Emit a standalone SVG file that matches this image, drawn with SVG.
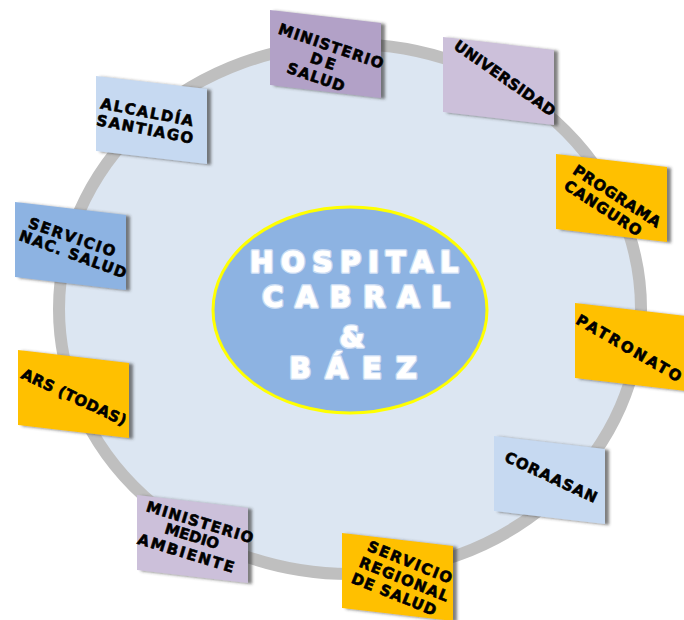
<svg xmlns="http://www.w3.org/2000/svg" width="684" height="620" viewBox="0 0 684 620">
<defs>
<filter id="sh" x="-10%" y="-10%" width="130%" height="130%">
<feDropShadow dx="4" dy="1" stdDeviation="1.5" flood-color="#3a3a3a" flood-opacity="0.65"/>
</filter>
<polygon id="card" points="0,0 111,13 111,88 0,75"/>
</defs>
<style>
.lbl{font-family:"DejaVu Sans","Liberation Sans",Arial,sans-serif;font-weight:bold;font-size:15px;fill:#000;stroke:#000;stroke-width:0.6;text-anchor:middle}
.ctr{font-family:"DejaVu Sans","Liberation Sans",Arial,sans-serif;font-weight:bold;font-size:28px;text-anchor:middle}
.glow{fill:#c9dbf3;stroke:#c9dbf3;stroke-width:4;stroke-linejoin:round}
.wh{fill:#fff;stroke:#fff;stroke-width:1.2}
.c1{fill:#B2A1C7}.c2{fill:#CCC0DA}.c3{fill:#C6D9F1}.c4{fill:#8DB3E2}.c5{fill:#FFC000}
</style>
<rect width="684" height="620" fill="#fff"/>
<g id="ring">
<ellipse cx="350" cy="309" rx="291" ry="265" fill="#DCE6F2" stroke="#BFBFBF" stroke-width="12"/>
</g>
<g id="hospital">
<ellipse cx="350" cy="310" rx="137" ry="103" fill="#8DB3E2" stroke="#FFFF00" stroke-width="3"/>
<g class="ctr glow">
<text x="354" y="272" textLength="208" lengthAdjust="spacing">HOSPITAL</text>
<text x="356" y="307" textLength="187" lengthAdjust="spacing">CABRAL</text>
<text x="352" y="347">&amp;</text>
<text x="353" y="378" textLength="127" lengthAdjust="spacing">BÁEZ</text>
</g>
<g class="ctr wh">
<text x="354" y="272" textLength="208" lengthAdjust="spacing">HOSPITAL</text>
<text x="356" y="307" textLength="187" lengthAdjust="spacing">CABRAL</text>
<text x="352" y="347">&amp;</text>
<text x="353" y="378" textLength="127" lengthAdjust="spacing">BÁEZ</text>
</g>
</g>
<g id="ministerio-salud">
<use href="#card" class="c1" x="270" y="10" filter="url(#sh)"/>
<text class="lbl" transform="translate(331,46) rotate(19)" dy=".36em" textLength="110" lengthAdjust="spacing">MINISTERIO</text>
<text class="lbl" transform="translate(323,61) rotate(19)" dy=".36em" textLength="26" lengthAdjust="spacing">DE</text>
<text class="lbl" transform="translate(316,77) rotate(19)" dy=".36em" textLength="60" lengthAdjust="spacing">SALUD</text>
</g>
<g id="universidad">
<use href="#card" class="c2" x="443" y="37" filter="url(#sh)"/>
<text class="lbl" transform="translate(505,78) rotate(35)" dy=".36em" textLength="120" lengthAdjust="spacing">UNIVERSIDAD</text>
</g>
<g id="alcaldia">
<use href="#card" class="c3" x="96" y="76" filter="url(#sh)"/>
<text class="lbl" transform="translate(147,112) rotate(11)" dy=".36em" textLength="94" lengthAdjust="spacing">ALCALDÍA</text>
<text class="lbl" transform="translate(145,129) rotate(11)" dy=".36em" textLength="98" lengthAdjust="spacing">SANTIAGO</text>
</g>
<g id="servicio-nac">
<use href="#card" class="c4" x="15" y="202" filter="url(#sh)"/>
<text class="lbl" transform="translate(72,237) rotate(19)" dy=".36em" textLength="91" lengthAdjust="spacing">SERVICIO</text>
<text class="lbl" transform="translate(73,254) rotate(20)" dy=".36em" textLength="113" lengthAdjust="spacing">NAC. SALUD</text>
</g>
<g id="ars">
<use href="#card" class="c5" x="18" y="350" filter="url(#sh)"/>
<text class="lbl" transform="translate(74,397) rotate(25)" dy=".36em" textLength="114" lengthAdjust="spacing">ARS (TODAS)</text>
</g>
<g id="medio-ambiente">
<use href="#card" class="c2" x="137" y="495" filter="url(#sh)"/>
<text class="lbl" transform="translate(200,522) rotate(17)" dy=".36em" textLength="111" lengthAdjust="spacing">MINISTERIO</text>
<text class="lbl" transform="translate(192,536) rotate(17)" dy=".36em" textLength="56" lengthAdjust="spacing">MEDIO</text>
<text class="lbl" transform="translate(186,553) rotate(17)" dy=".36em" textLength="100" lengthAdjust="spacing">AMBIENTE</text>
</g>
<g id="servicio-regional">
<use href="#card" class="c5" x="342" y="533" filter="url(#sh)"/>
<text class="lbl" transform="translate(410,562) rotate(22)" dy=".36em" textLength="90" lengthAdjust="spacing">SERVICIO</text>
<text class="lbl" transform="translate(404,579) rotate(22)" dy=".36em" textLength="95" lengthAdjust="spacing">REGIONAL</text>
<text class="lbl" transform="translate(394,594) rotate(22)" dy=".36em" textLength="90" lengthAdjust="spacing">DE SALUD</text>
</g>
<g id="coraasan">
<use href="#card" class="c3" x="494" y="436" filter="url(#sh)"/>
<text class="lbl" transform="translate(551,477) rotate(25)" dy=".36em" textLength="100" lengthAdjust="spacing">CORAASAN</text>
</g>
<g id="patronato">
<use href="#card" class="c5" x="575" y="303" filter="url(#sh)"/>
<text class="lbl" transform="translate(629,348) rotate(30)" dy=".36em" textLength="119" lengthAdjust="spacing">PATRONATO</text>
</g>
<g id="programa-canguro">
<use href="#card" class="c5" x="556" y="154" filter="url(#sh)"/>
<text class="lbl" transform="translate(617,196) rotate(33)" dy=".36em" textLength="101" lengthAdjust="spacing">PROGRAMA</text>
<text class="lbl" transform="translate(603,208) rotate(33)" dy=".36em" textLength="89" lengthAdjust="spacing">CANGURO</text>
</g>
</svg>
